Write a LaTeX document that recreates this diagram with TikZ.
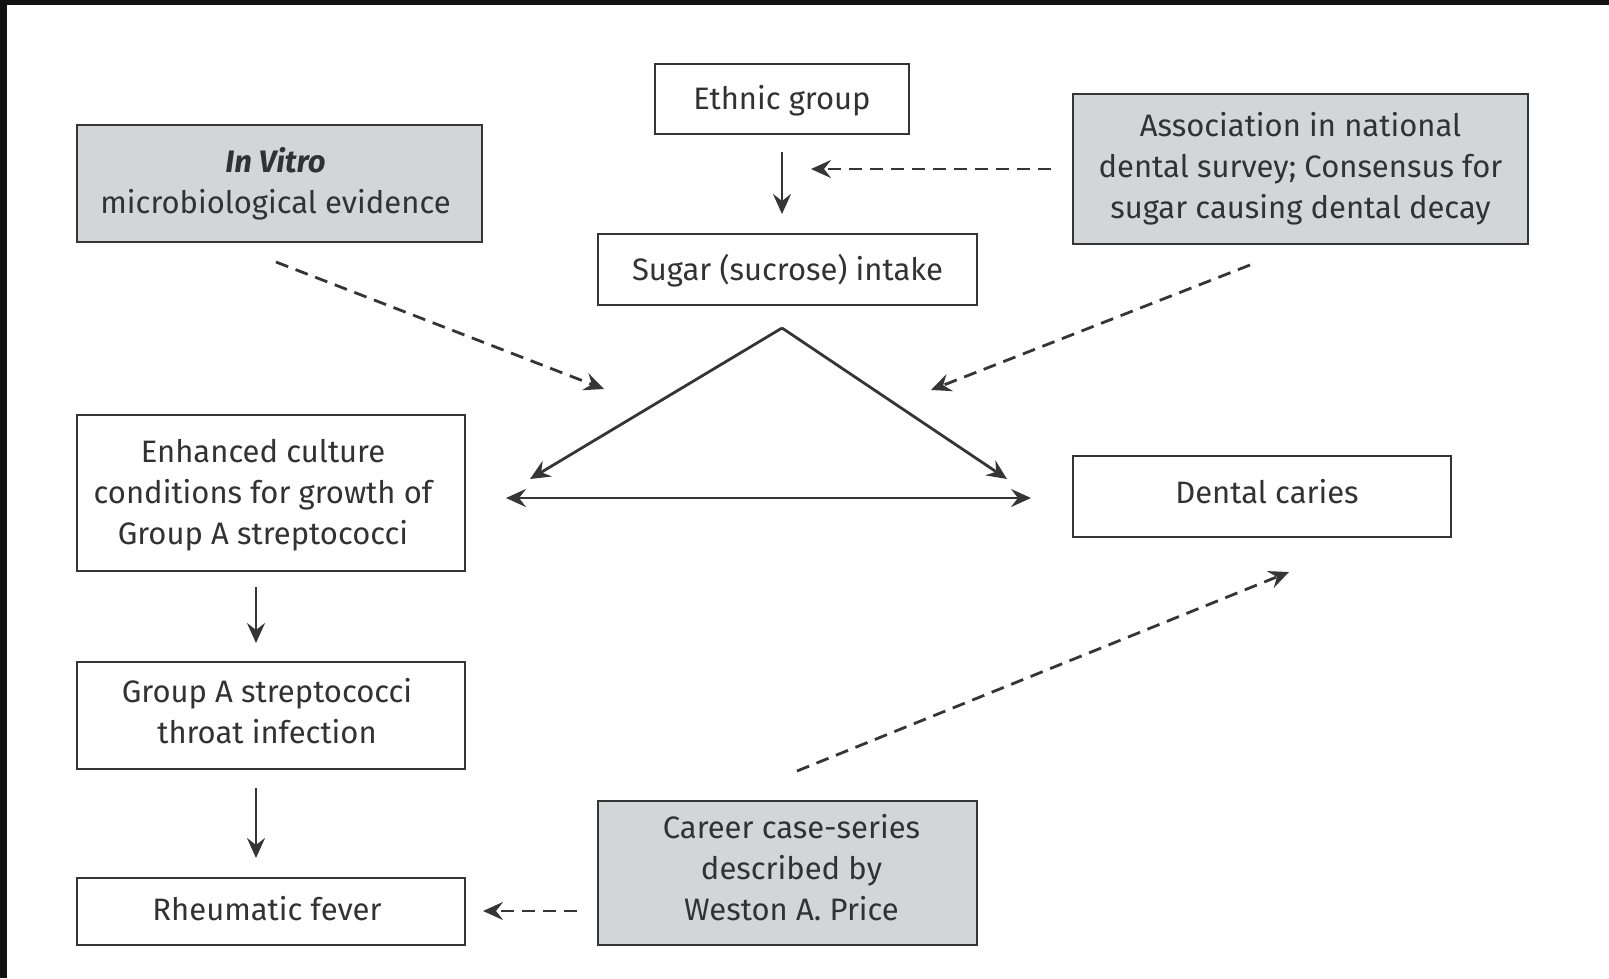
\documentclass[tikz,border=0pt]{standalone}
\usepackage{fontspec}
\setmainfont{Fira Sans}
\usetikzlibrary{arrows.meta}
\definecolor{ink}{HTML}{353535}
\definecolor{boxgray}{HTML}{D4D5D7}
\tikzset{
  basebox/.style={draw=ink, line width=2.6pt, inner sep=0pt},
  plainbox/.style={basebox, fill=white},
  graybox/.style={basebox, fill=boxgray},
  boxtext/.style={text=ink!95!black, align=center, inner sep=0pt, font=\fontsize{31}{41}\selectfont},
  arr/.style={draw=ink, line width=2.8pt, -{Stealth[length=20pt,width=18pt,inset=7pt]}},
  darr/.style={draw=ink, line width=2.8pt, {Stealth[length=20pt,width=18pt,inset=7pt]}-{Stealth[length=20pt,width=18pt,inset=7pt]}},
  dasharr/.style={arr, dash pattern=on 13pt off 8pt}
}
\begin{document}
\begin{tikzpicture}[x=1pt,y=-1pt]
\useasboundingbox (0,0) rectangle (1609,978);
\fill[white] (0,0) rectangle (1609,978);
\fill[black!93] (0,0) rectangle (1609,5);
\fill[black!93] (0,0) rectangle (7,978);

% boxes
\node[plainbox, minimum width=254pt, minimum height=70pt] (eth) at (782,99) {};
\node[plainbox, minimum width=379pt, minimum height=71pt] (sug) at (787.5,269.5) {};
\node[graybox, minimum width=405pt, minimum height=117pt] (vit) at (279.5,183.5) {};
\node[graybox, minimum width=455pt, minimum height=150pt] (assoc) at (1300.5,169) {};
\node[plainbox, minimum width=388pt, minimum height=156pt] (enh) at (271,493) {};
\node[plainbox, minimum width=378pt, minimum height=81pt] (den) at (1262,496.5) {};
\node[plainbox, minimum width=388pt, minimum height=107pt] (gas) at (271,715.5) {};
\node[plainbox, minimum width=388pt, minimum height=67pt] (rhe) at (271,911.5) {};
\node[graybox, minimum width=379pt, minimum height=144pt] (car) at (787.5,873) {};

% texts
\node[boxtext] (ethT) at ([shift={(0,1.5)}]eth.center) {Ethnic group};
\node[boxtext] (sugT) at ([shift={(0,1.5)}]sug.center) {Sugar (sucrose) intake};
\node[boxtext] (vitT) at ([shift={(-4,0)}]vit.center) {\textbf{\textit{In Vitro}}\\microbiological evidence};
\node[boxtext] (assocT) at ([shift={(0,0)}]assoc.center) {Association in national\\dental survey; Consensus for\\sugar causing dental decay};
\node[boxtext] (enhT) at ([shift={(-8,2)}]enh.center) {Enhanced culture\\conditions for growth of\\Group A streptococci};
\node[boxtext] (denT) at ([shift={(5,-5)}]den.center) {Dental caries};
\node[boxtext] (gasT) at ([shift={(-4,-4)}]gas.center) {Group A streptococci\\throat infection};
\node[boxtext] (rheT) at ([shift={(-4,-3)}]rhe.center) {Rheumatic fever};
\node[boxtext] (carT) at ([shift={(4,-5)}]car.center) {Career case-series\\described by\\Weston A. Price};

% named free ends
\coordinate (ethS) at (782,152);
\coordinate (sugN) at (782,214);
\coordinate (asW) at (1051,169);
\coordinate (asTip) at (811,169);
\coordinate (apex) at (782,328);
\coordinate (lt) at (530,479);
\coordinate (rt) at (1007,479);
\coordinate (hL) at (506,498);
\coordinate (hR) at (1031,498);
\coordinate (vitS) at (276,262);
\coordinate (vitTip) at (604,389);
\coordinate (asS) at (1250,265);
\coordinate (asTip2) at (931,390);
\coordinate (enhS) at (256,587);
\coordinate (gasN) at (256,643);
\coordinate (gasS) at (256,788);
\coordinate (rheN) at (256,858);
\coordinate (carN) at (797,771);
\coordinate (denTip) at (1289,572);
\coordinate (carW) at (577,911);
\coordinate (rheE) at (483,911);

\draw[arr] (ethS) -- (sugN);
\draw[dasharr] (asW) -- (asTip);
\draw[arr] (apex) -- (lt);
\draw[arr] (apex) -- (rt);
\draw[darr] (hL) -- (hR);
\draw[dasharr] (vitS) -- (vitTip);
\draw[dasharr] (asS) -- (asTip2);
\draw[arr] (enhS) -- (gasN);
\draw[arr] (gasS) -- (rheN);
\draw[dasharr] (carN) -- (denTip);
\draw[dasharr] (carW) -- (rheE);
\end{tikzpicture}
\end{document}
